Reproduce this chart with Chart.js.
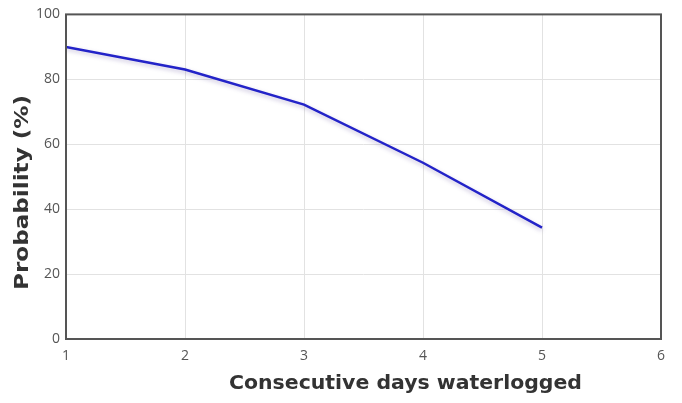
<!DOCTYPE html>
<html>
<head>
<meta charset="utf-8">
<script src="https://cdn.jsdelivr.net/npm/chart.js@4"></script>
<style>
html,body{margin:0;padding:0;background:#fff;}
#wrap{width:682px;height:403px;position:relative;}
</style>
</head>
<body>
<div id="wrap"><canvas id="c" width="682" height="403"></canvas></div>
<script>
const days = [1, 2, 3, 4, 5];
const probability = [90, 83, 72.2, 54.3, 34.3];
const xTicks = [1, 2, 3, 4, 5, 6];
const yTicks = [0, 20, 40, 60, 80, 100];
const xTitle = 'Consecutive days waterlogged';
const yTitle = 'Probability (%)';

const TICK_FONT = '"Open Sans", sans-serif';
const TITLE_FONT = '"DejaVu Sans", sans-serif';

function fitText(ctx, text, cx, cy, width) {
  const w = ctx.measureText(text).width;
  ctx.save();
  ctx.translate(cx, cy);
  ctx.scale(width / w, 1);
  ctx.fillText(text, 0, 0);
  ctx.restore();
}

const framePlugin = {
  id: 'frame',
  beforeDatasetDraw(chart) {
    const ctx = chart.ctx;
    ctx.save();
    ctx.shadowColor = 'rgba(90,70,150,0.35)';
    ctx.shadowBlur = 4;
    ctx.shadowOffsetY = 2;
  },
  afterDatasetDraw(chart) {
    chart.ctx.restore();
  },
  afterDraw(chart) {
    const {ctx, chartArea: a} = chart;
    ctx.save();
    ctx.strokeStyle = '#555';
    ctx.lineWidth = 2;
    ctx.strokeRect(a.left, a.top, a.right - a.left, a.bottom - a.top);
    ctx.fillStyle = '#333';
    ctx.font = 'bold 19px ' + TITLE_FONT;
    ctx.textAlign = 'center';
    ctx.textBaseline = 'middle';
    fitText(ctx, xTitle, 405.5, 384, 353);
    ctx.translate(23, 192.5);
    ctx.rotate(-Math.PI / 2);
    fitText(ctx, yTitle, 0, 0, 195);
    ctx.restore();
  }
};

new Chart(document.getElementById('c'), {
  type: 'line',
  data: {
    datasets: [{
      data: days.map((d, i) => ({x: d, y: probability[i]})),
      borderColor: '#2323c8',
      borderWidth: 2.5,
      pointRadius: 0,
      tension: 0,
      fill: false
    }]
  },
  options: {
    responsive: false,
    animation: false,
    layout: {padding: {top: 14, right: 21, left: 0, bottom: 0}},
    plugins: {legend: {display: false}, tooltip: {enabled: false}},
    scales: {
      x: {
        type: 'linear',
        min: xTicks[0],
        max: xTicks[xTicks.length - 1],
        afterBuildTicks(s) { s.ticks = xTicks.map(v => ({value: v})); },
        afterFit(s) { s.height = 64; },
        grid: {color: '#e2e2e2', drawTicks: false},
        border: {display: false},
        ticks: {color: '#555', font: {family: TICK_FONT, size: 14}, padding: 9}
      },
      y: {
        min: yTicks[0],
        max: yTicks[yTicks.length - 1],
        afterBuildTicks(s) { s.ticks = yTicks.map(v => ({value: v})); },
        afterFit(s) { s.width = 66; },
        grid: {color: '#e2e2e2', drawTicks: false},
        border: {display: false},
        ticks: {color: '#555', font: {family: TICK_FONT, size: 14}, padding: 6}
      }
    }
  },
  plugins: [framePlugin]
});
</script>
</body>
</html>
